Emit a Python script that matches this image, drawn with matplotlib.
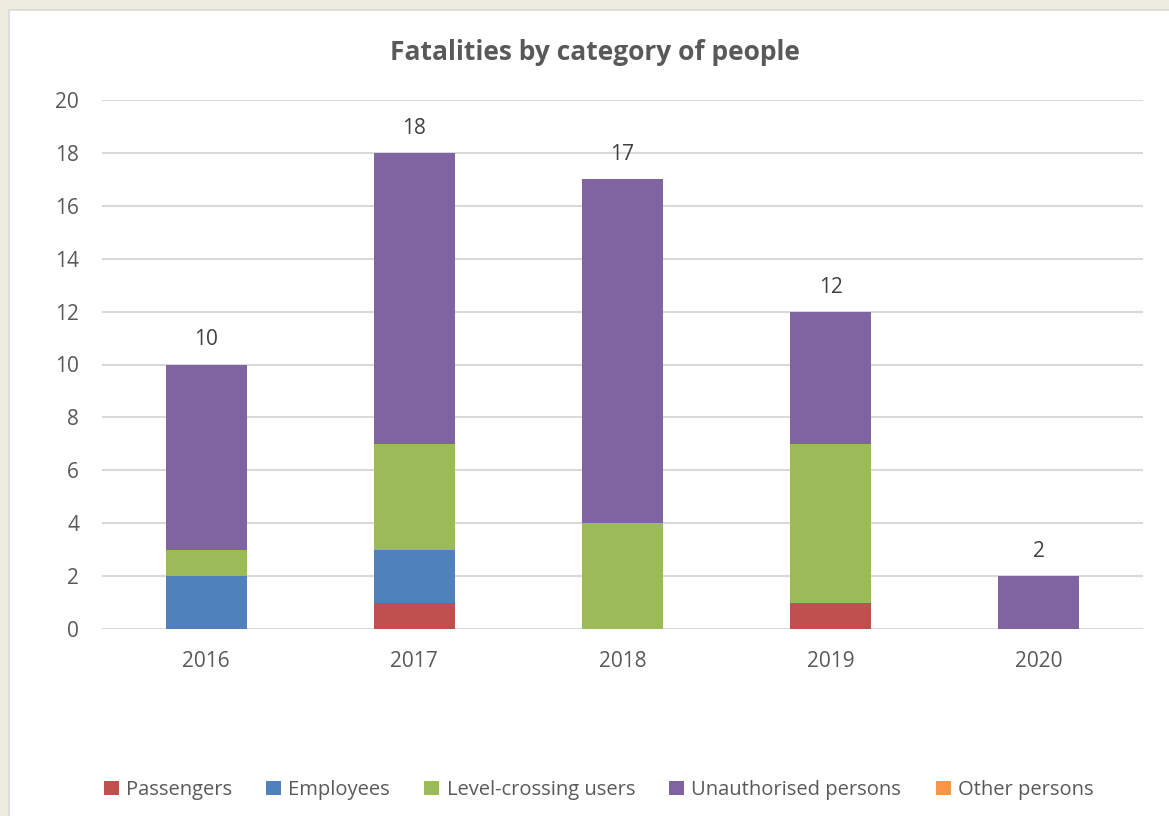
import numpy as np
import matplotlib.pyplot as plt
from matplotlib.patches import Rectangle

# Data
years = ['2016', '2017', '2018', '2019', '2020']
passengers = [0, 1, 0, 1, 0]
employees = [2, 2, 0, 0, 0]
level_crossing = [1, 4, 4, 6, 0]
unauthorised = [7, 11, 13, 5, 2]
other = [0, 0, 0, 0, 0]

series = [
    ('Passengers', passengers, '#C0504D'),
    ('Employees', employees, '#4F81BD'),
    ('Level-crossing users', level_crossing, '#9BBB59'),
    ('Unauthorised persons', unauthorised, '#8064A2'),
    ('Other persons', other, '#F79646'),
]

plt.rcParams['font.family'] = ['Open Sans', 'DejaVu Sans']
text_col = '#595959'

fig = plt.figure(figsize=(11.69, 8.16), dpi=100)
fig.patch.set_facecolor('#EEEBE0')
# white chart panel behind everything
panel = Rectangle((9 / 1169, -0.01), 1.0, 1 - 10 / 816 + 0.01,
                  transform=fig.transFigure, facecolor='white',
                  edgecolor='#D9D9D9', linewidth=1.2, zorder=-10)
fig.patches.append(panel)

ax = fig.add_axes([102 / 1169, 1 - 629 / 816, (1143 - 102) / 1169, (629 - 100) / 816])
ax.set_facecolor('none')

x = np.arange(len(years))
bottom = np.zeros(len(years))
handles = []
for name, vals, col in series:
    vals = np.array(vals, dtype=float)
    b = ax.bar(x, vals, 0.39, bottom=bottom, color=col, label=name, zorder=3)
    handles.append(b)
    bottom += vals

# totals above each stack
for xi, tot in zip(x, bottom):
    ax.text(xi, tot + 0.93, f'{int(tot)}', ha='center', va='center',
            fontsize=15, color='#404040')

ax.set_xlim(-0.5, len(years) - 0.5)
ax.set_ylim(0, 20)
ax.set_yticks(range(0, 21, 2))
ax.set_xticks(x)
ax.set_xticklabels(years)
ax.grid(axis='y', color='#D9D9D9', linewidth=1.5, zorder=0)
ax.set_axisbelow(True)
for s in ax.spines.values():
    s.set_visible(False)
ax.tick_params(length=0, labelsize=15, labelcolor=text_col)
ax.tick_params(axis='y', pad=16.5)
ax.tick_params(axis='x', pad=16)

fig.text(595 / 1169, 1 - 52 / 816, 'Fatalities by category of people',
         ha='center', va='center', fontsize=19, fontweight='bold', color=text_col)

fig.legend(handles=handles, loc='center', bbox_to_anchor=(0.512, 1 - 790 / 816),
           ncol=5, frameon=False, fontsize=14.5, labelcolor=text_col,
           handlelength=0.75, handleheight=0.75, handletextpad=0.35, columnspacing=1.7)

fig.savefig('out.png', dpi=100, facecolor=fig.get_facecolor())
